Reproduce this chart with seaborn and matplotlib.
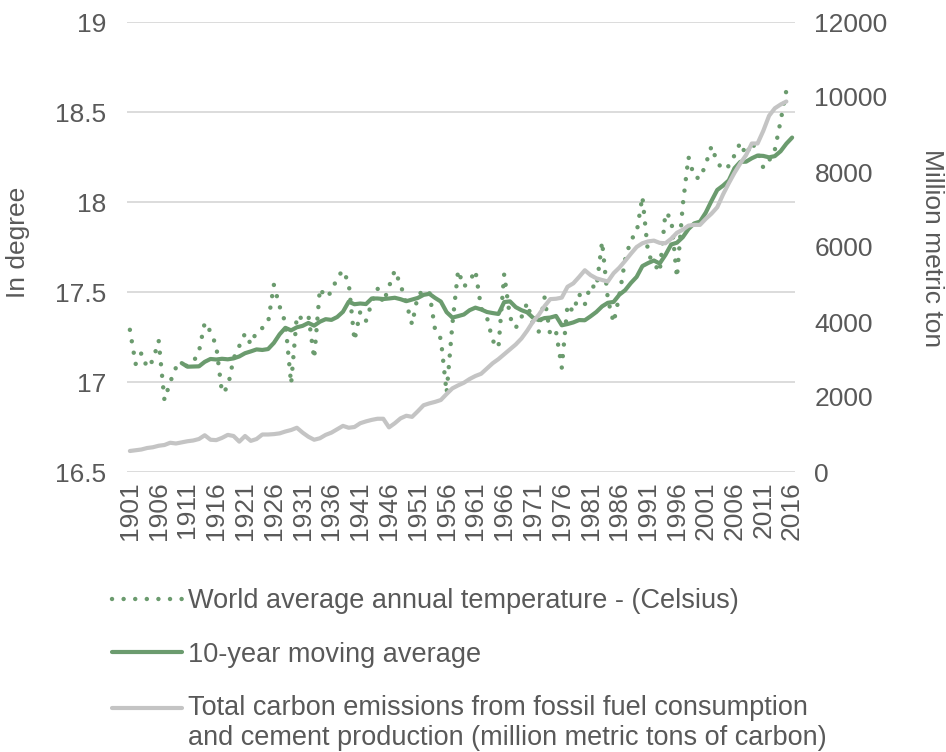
import numpy as np
import pandas as pd
import matplotlib
matplotlib.use("Agg")
import matplotlib.pyplot as plt
import matplotlib.transforms as mtransforms
from matplotlib.legend_handler import HandlerLine2D
import seaborn as sns

GREEN = "#6b9b6e"
GREY = "#c4c4c4"
TEXT = "#595959"

years = list(range(1901, 2017))

# world average annual temperature (deg C)
temperature = [
    17.29, 17.10, 17.16, 17.08, 17.12, 17.23, 16.90, 17.00, 17.08, 17.09,  # 1901-1910
    17.09, 17.11, 17.17, 17.33, 17.28, 17.20, 16.94, 16.97, 17.13, 17.20,  # 1911-1920
    17.27, 17.21, 17.28, 17.30, 17.33, 17.54, 17.42, 17.33, 16.99, 17.37,  # 1921-1930
    17.35, 17.37, 17.13, 17.52, 17.47, 17.50, 17.58, 17.62, 17.55, 17.23,  # 1931-1940
    17.39, 17.34, 17.44, 17.52, 17.44, 17.53, 17.62, 17.54, 17.44, 17.32,  # 1941-1950
    17.48, 17.51, 17.50, 17.29, 17.24, 16.94, 17.32, 17.62, 17.53, 17.56,  # 1951-1960
    17.62, 17.41, 17.36, 17.23, 17.19, 17.60, 17.36, 17.30, 17.36, 17.44,  # 1961-1970
    17.32, 17.28, 17.47, 17.26, 17.28, 17.08, 17.43, 17.39, 17.49, 17.43,  # 1971-1980
    17.54, 17.52, 17.78, 17.46, 17.33, 17.48, 17.68, 17.79, 17.83, 18.03,  # 1981-1990
    17.71, 17.66, 17.61, 17.94, 17.91, 17.58, 17.98, 18.25, 18.14, 18.13,  # 1991-2000
    18.21, 18.31, 18.22, 18.18, 18.20, 18.26, 18.33, 18.26, 18.33, 18.28,  # 2001-2010
    18.19, 18.23, 18.29, 18.45, 18.62, 18.60,                              # 2011-2016
]

# carbon emissions (million metric tons of carbon)
carbon = [
    560, 580, 600, 640, 660, 700, 720, 780, 760, 790,
    820, 840, 880, 980, 860, 850, 910, 990, 960, 810,
    960, 830, 880, 1000, 1000, 1010, 1030, 1080, 1120, 1180,
    1050, 940, 860, 900, 990, 1050, 1140, 1230, 1180, 1200,
    1300, 1350, 1390, 1420, 1420, 1190, 1300, 1430, 1500, 1470,
    1620, 1780, 1830, 1870, 1920, 2080, 2230, 2310, 2380, 2480,
    2560, 2620, 2760, 2900, 3010, 3140, 3270, 3400, 3560, 3770,
    4010, 4190, 4420, 4610, 4620, 4650, 4940, 5030, 5200, 5380,
    5250, 5165, 5120, 5080, 5300, 5450, 5630, 5820, 6000, 6100,
    6150, 6170, 6110, 6100, 6220, 6380, 6460, 6570, 6590, 6590,
    6750, 6890, 7060, 7400, 7700, 7980, 8230, 8450, 8760, 8760,
    9100, 9500, 9700, 9800, 9880, np.nan,
]

df = pd.DataFrame({"year": years, "temp": temperature, "carbon": carbon})
df["ma10"] = df["temp"].rolling(10).mean()

sns.set_style("white")
plt.rcParams["font.family"] = ["Liberation Sans", "DejaVu Sans"]
FS = 19
LEG_FS = 19.5


class TopLineHandler(HandlerLine2D):
    # put the legend line next to the first row of a two-line label
    def create_artists(self, legend, orig_handle, xdescent, ydescent,
                       width, height, fontsize, trans):
        arts = super().create_artists(legend, orig_handle, xdescent, ydescent,
                                      width, height, fontsize, trans)
        shift = mtransforms.Affine2D().translate(0, 0.6 * fontsize)
        for a in arts:
            a.set_transform(shift + trans)
        return arts


fig = plt.figure(figsize=(9.46, 7.52), dpi=100)
ax = fig.add_axes([127 / 946, 1 - 472 / 752, (795 - 127) / 946, 450 / 752])
ax2 = ax.twinx()

sns.lineplot(data=df, x="year", y="temp", ax=ax, color=GREEN, lw=3.2,
             linestyle=(0, (0.01, 2.6)), dash_capstyle="round",
             label="World average annual temperature - (Celsius)", legend=False)
sns.lineplot(data=df, x="year", y="ma10", ax=ax, color=GREEN, lw=3,
             label="10-year moving average", legend=False)
sns.lineplot(data=df, x="year", y="carbon", ax=ax2, color=GREY, lw=3,
             label="Total carbon emissions from fossil fuel consumption\n"
                   "and cement production (million metric tons of carbon)",
             legend=False)

ax.set_xlim(1900.5, 2016.5)
ax.set_ylim(16.5, 19)
ax.set_yticks(np.arange(16.5, 19.01, 0.5))
ax.set_yticklabels(["16.5", "17", "17.5", "18", "18.5", "19"])
ax.set_xticks(years[::5])
ax.set_xticklabels([str(y) for y in years[::5]], rotation=90)
ax2.set_ylim(0, 12000)
ax2.set_yticks(range(0, 12001, 2000))

ax.grid(axis="y", color="#d9d9d9", lw=1.3)
ax.set_axisbelow(True)
for a in (ax, ax2):
    for s in a.spines.values():
        s.set_visible(False)
    a.set_xlabel("")
    a.set_ylabel("")
ax.tick_params(axis="y", length=0, pad=15, labelsize=FS, labelcolor=TEXT)
ax.tick_params(axis="x", length=0, pad=7, labelsize=FS, labelcolor=TEXT)
ax2.tick_params(axis="y", length=0, pad=14, labelsize=FS, labelcolor=TEXT)

fig.text(18 / 946, 1 - 242 / 752, "In degree", rotation=90, ha="center",
         va="center", fontsize=FS, color=TEXT)
fig.text(932 / 946, 1 - 248 / 752, "Million metric ton", rotation=270,
         ha="center", va="center", fontsize=FS, color=TEXT)

handles = ax.get_lines()[:2] + ax2.get_lines()[:1]
labels = [h.get_label() for h in handles]
fig.legend(handles, labels, loc="upper left", bbox_to_anchor=(112 / 946, 1 - 588 / 752),
           frameon=False, fontsize=LEG_FS, labelcolor=TEXT, handlelength=2.6,
           handletextpad=0.2, labelspacing=1.02, borderpad=0, borderaxespad=0,
           handler_map={handles[2]: TopLineHandler()})

fig.savefig("out.png", dpi=100)
